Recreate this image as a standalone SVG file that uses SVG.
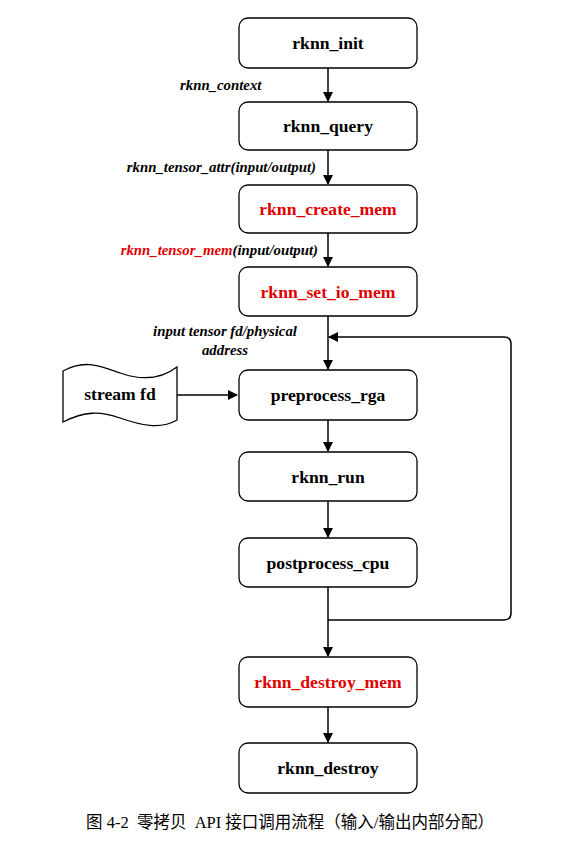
<svg xmlns="http://www.w3.org/2000/svg" width="572" height="845" viewBox="0 0 572 845">
<style>
.box{fill:#fff;stroke:#000;stroke-width:1.3}
.t{font-family:"Liberation Serif",serif;font-weight:bold;font-size:17.6px;text-anchor:middle}
.red{fill:#e00000}
.lbl{font-family:"Liberation Serif",serif;font-weight:bold;font-style:italic;font-size:14.8px}
.ln{fill:none;stroke:#000;stroke-width:1.5}
.cap{font-family:"Liberation Serif","Noto Sans CJK SC",serif;font-size:16.5px}
</style>
<defs>
<marker id="ah" markerWidth="10" markerHeight="10" refX="9" refY="5" orient="auto" markerUnits="userSpaceOnUse">
<path d="M0,0 L10,5 L0,10 Z" fill="#000"/>
</marker>
</defs>
<rect width="572" height="845" fill="#fff"/>
<g id="connectors">
<line class="ln" x1="328" y1="68" x2="328" y2="101" marker-end="url(#ah)"/>
<line class="ln" x1="328" y1="150" x2="328" y2="184" marker-end="url(#ah)"/>
<line class="ln" x1="328" y1="233" x2="328" y2="266" marker-end="url(#ah)"/>
<line class="ln" x1="328" y1="316" x2="328" y2="369" marker-end="url(#ah)"/>
<line class="ln" x1="328" y1="420" x2="328" y2="451" marker-end="url(#ah)"/>
<line class="ln" x1="328" y1="501" x2="328" y2="537" marker-end="url(#ah)"/>
<line class="ln" x1="328" y1="587" x2="328" y2="656" marker-end="url(#ah)"/>
<line class="ln" x1="328" y1="707" x2="328" y2="742" marker-end="url(#ah)"/>
<line class="ln" x1="177" y1="395" x2="237" y2="395" marker-end="url(#ah)"/>
<path class="ln" d="M328,620 H504 Q511,620 511,613 V344 Q511,337 504,337 H329" marker-end="url(#ah)"/>
</g>
<g id="rknn_init"><rect class="box" x="239" y="18" width="178" height="50" rx="9"/><text class="t" x="328" y="49">rknn_init</text></g>
<g id="rknn_query"><rect class="box" x="239" y="102" width="178" height="48" rx="9"/><text class="t" x="328" y="132">rknn_query</text></g>
<g id="rknn_create_mem"><rect class="box" x="239" y="185" width="178" height="48" rx="9"/><text class="t red" x="328" y="215">rknn_create_mem</text></g>
<g id="rknn_set_io_mem"><rect class="box" x="239" y="267" width="178" height="49" rx="9"/><text class="t red" x="328" y="298">rknn_set_io_mem</text></g>
<g id="preprocess_rga"><rect class="box" x="239" y="370" width="178" height="50" rx="9"/><text class="t" x="328" y="401">preprocess_rga</text></g>
<g id="rknn_run"><rect class="box" x="239" y="452" width="178" height="49" rx="9"/><text class="t" x="328" y="483">rknn_run</text></g>
<g id="postprocess_cpu"><rect class="box" x="239" y="538" width="178" height="49" rx="9"/><text class="t" x="328" y="569">postprocess_cpu</text></g>
<g id="rknn_destroy_mem"><rect class="box" x="239" y="657" width="178" height="50" rx="9"/><text class="t red" x="328" y="688">rknn_destroy_mem</text></g>
<g id="rknn_destroy"><rect class="box" x="239" y="743" width="178" height="50" rx="9"/><text class="t" x="328" y="774">rknn_destroy</text></g>
<g id="stream_fd">
<path class="box" d="M63,371 C85,359 100,366 120,373 C140,380 160,380 177,367 V420 C160,430 140,425 120,418 C100,411 85,411 63,422 Z"/>
<text class="t" x="120" y="400">stream fd</text>
</g>
<g id="labels">
<text class="lbl" x="180" y="90">rknn_context</text>
<text class="lbl" x="316" y="172" text-anchor="end">rknn_tensor_attr(input/output)</text>
<text class="lbl" x="318" y="255" text-anchor="end"><tspan class="red">rknn_tensor_mem</tspan>(input/output)</text>
<text class="lbl" x="225" y="336" text-anchor="middle">input tensor fd/physical</text>
<text class="lbl" x="225" y="355" text-anchor="middle">address</text>
</g>
<text class="cap" x="290" y="828" text-anchor="middle" xml:space="preserve">图 4-2  零拷贝  API 接口调用流程（输入/输出内部分配）</text>
</svg>
